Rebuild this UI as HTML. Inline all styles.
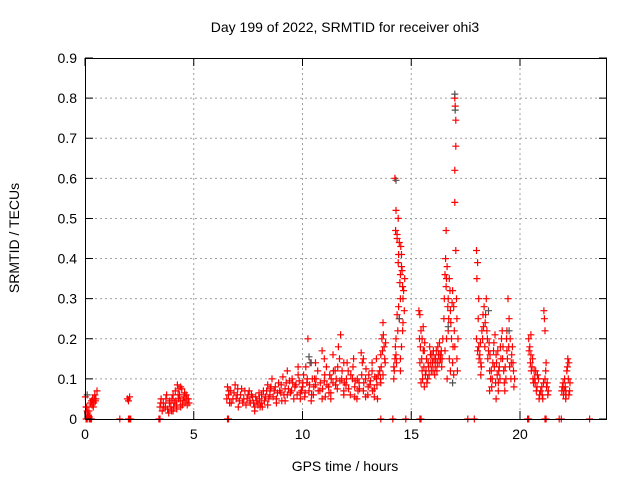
<!DOCTYPE html>
<html><head><meta charset="utf-8"><style>
body{margin:0;background:#fff;}
svg{display:block;font-family:"Liberation Sans",sans-serif;}
</style></head><body>
<svg id="chart" width="640" height="480">
<rect width="640" height="480" fill="#fff"/>
<text x="345" y="32" font-size="14" text-anchor="middle">Day 199 of 2022, SRMTID for receiver ohi3</text>
<text x="345" y="471" font-size="14" text-anchor="middle">GPS time / hours</text>
<text transform="translate(19,238) rotate(-90)" font-size="14" text-anchor="middle">SRMTID / TECUs</text>
<g id="grid"></g><g id="marks"></g><g id="axes"></g>
</svg>
<script>
const xTicks=[0,5,10,15,20];
const yTicks=[0,0.1,0.2,0.3,0.4,0.5,0.6,0.7,0.8,0.9];
const yTickLabels=["0","0.1","0.2","0.3","0.4","0.5","0.6","0.7","0.8","0.9"];
const hours=[0.02,0.08,0.1,0.15,0.2,0.25,0.3,0.35,0.4,0.45,0.5,0.55,
1.95,2.0,2.05,
3.45,3.5,3.55,3.6,3.7,3.75,3.8,3.9,3.95,4.0,4.05,4.1,4.15,4.2,4.25,4.3,4.35,4.4,4.45,4.5,4.55,4.6,4.65,4.7,4.75,3.85,4.05,4.4,
6.55,6.6,6.65,6.7,6.8,6.9,7.0,7.1,7.2,7.3,7.4,7.5,7.6,7.7,7.8,7.9,8.0,8.1,8.2,8.3,8.4,8.5,8.6,8.7,8.8,8.9,9.0,9.1,9.2,9.3,9.4,9.5,9.6,9.7,9.8,9.9,10.0,10.1,10.15,10.2,10.25,10.3,10.4,10.45,10.5,10.6,10.7,10.8,10.9,11.0,11.1,11.2,11.25,11.3,11.4,11.5,11.6,11.7,11.75,11.8,11.9,12.0,12.1,12.2,12.3,12.4,12.5,12.6,12.7,12.75,12.8,12.9,13.0,13.1,13.2,13.3,13.4,13.45,
7.05,7.55,8.05,8.55,9.05,9.55,10.05,10.55,11.05,11.55,12.05,12.55,13.05,
13.55,13.6,13.65,13.7,13.75,13.8,13.6,13.7,
14.2,14.25,14.3,14.25,14.3,14.35,14.4,14.45,14.4,14.5,14.55,14.6,14.5,14.45,14.6,14.55,14.3,14.35,14.2,14.35,14.55,14.65,14.7,14.5,
15.35,15.4,15.45,15.5,15.55,15.6,15.4,15.5,15.45,15.6,15.65,15.7,15.75,15.8,15.85,15.9,15.95,16.0,16.05,16.1,16.15,16.2,16.25,16.3,16.35,16.4,15.55,
16.5,16.55,16.6,16.65,16.6,16.7,16.75,16.7,16.8,16.85,16.9,16.95,17.0,17.02,17.05,17.0,17.0,17.05,16.9,17.0,16.8,17.1,17.15,16.65,16.55,17.1,17.05,
18.0,18.05,18.1,18.0,18.1,18.15,18.2,18.25,18.3,18.35,18.4,18.45,18.5,18.55,18.6,18.65,18.7,18.75,18.8,18.85,18.9,18.95,19.0,19.05,19.1,19.15,19.2,19.25,19.3,19.35,19.4,19.45,19.5,19.55,19.6,19.65,19.7,19.75,18.2,18.9,19.4,18.05,
20.4,20.45,20.5,20.55,20.6,20.65,20.7,20.75,20.8,20.9,21.0,21.05,21.1,21.12,21.15,21.15,21.2,21.25,21.3,20.5,
21.95,22.0,22.05,22.1,22.15,22.2,22.25,22.1,22.3,
0.05,0.1,0.2,0.25,0.3,1.6,2.0,2.05,2.1,3.4,3.45,6.55,6.6,13.6,14.15,14.75,15.4,15.45,17.6,17.9,20.35,20.4,21.15,21.2,21.8,21.9,23.2];
const tecu=[0.055,0.03,0.02,0.01,0.005,0.04,0.045,0.05,0.04,0.06,0.05,0.07,
0.05,0.045,0.055,
0.03,0.05,0.02,0.04,0.03,0.06,0.025,0.045,0.03,0.05,0.02,0.04,0.07,0.035,0.085,0.05,0.06,0.03,0.075,0.045,0.055,0.04,0.06,0.035,0.05,0.015,0.06,0.08,
0.08,0.06,0.04,0.07,0.05,0.085,0.06,0.045,0.075,0.05,0.035,0.06,0.04,0.055,0.03,0.045,0.065,0.04,0.07,0.055,0.085,0.06,0.1,0.07,0.05,0.09,0.065,0.105,0.075,0.06,0.095,0.07,0.05,0.085,0.11,0.065,0.08,0.055,0.13,0.09,0.2,0.07,0.14,0.1,0.06,0.085,0.12,0.07,0.05,0.095,0.13,0.08,0.11,0.065,0.09,0.12,0.075,0.15,0.21,0.1,0.07,0.085,0.12,0.06,0.1,0.08,0.05,0.09,0.165,0.14,0.07,0.1,0.06,0.085,0.12,0.075,0.1,0.05,
0.03,0.07,0.03,0.08,0.045,0.09,0.11,0.1,0.055,0.1,0.14,0.07,0.11,
0.12,0.16,0.2,0.24,0.18,0.14,0.09,0.11,
0.1,0.15,0.2,0.6,0.52,0.46,0.5,0.44,0.39,0.36,0.41,0.33,0.3,0.25,0.22,0.18,0.16,0.26,0.13,0.45,0.38,0.32,0.35,0.12,
0.27,0.26,0.22,0.2,0.23,0.17,0.14,0.12,0.09,0.08,0.11,0.15,0.1,0.13,0.18,0.14,0.16,0.12,0.15,0.13,0.17,0.14,0.16,0.19,0.15,0.13,0.17,
0.25,0.36,0.47,0.38,0.33,0.3,0.35,0.22,0.27,0.2,0.32,0.28,0.8,0.78,0.68,0.62,0.54,0.42,0.14,0.18,0.12,0.25,0.2,0.1,0.17,0.15,0.745,
0.42,0.39,0.3,0.2,0.18,0.16,0.14,0.22,0.26,0.28,0.24,0.3,0.2,0.17,0.12,0.1,0.08,0.14,0.19,0.21,0.16,0.11,0.09,0.13,0.18,0.2,0.15,0.12,0.07,0.1,0.17,0.3,0.25,0.2,0.14,0.18,0.12,0.1,0.11,0.05,0.22,0.17,
0.2,0.18,0.16,0.13,0.1,0.12,0.09,0.07,0.11,0.06,0.08,0.05,0.27,0.25,0.22,0.1,0.14,0.09,0.07,0.21,
0.08,0.06,0.1,0.07,0.12,0.15,0.14,0.05,0.09,
0,0,0,0,0,0,0,0,0,0,0,0,0,0,0,0,0,0,0,0,0,0,0,0,0,0,0];
const hours2=[6.52,6.62,6.72,6.85,6.95,7.02,7.15,7.25,7.35,7.45,7.58,7.65,7.75,7.85,7.95,8.02,8.12,8.25,8.35,8.45,8.52,8.65,8.75,8.85,8.95,9.02,9.15,9.25,9.35,9.45,9.52,9.65,9.75,9.85,9.95,10.02,10.12,10.22,10.32,10.42,10.52,10.62,10.72,10.82,10.92,11.02,11.12,11.22,11.32,11.42,11.52,11.62,11.72,11.82,11.92,12.02,12.12,12.22,12.32,12.42,12.52,12.62,12.72,12.82,12.92,13.02,13.12,13.22,13.32,13.42,13.48,
8.15,8.8,9.2,9.9,10.4,11.3,11.9,12.4,12.9,13.3,7.8,8.4,
9.3,9.8,10.6,11.0,11.4,11.9,12.35,12.8,13.2,13.4,10.9,11.65,
3.48,3.62,3.72,3.88,3.98,4.08,4.18,4.28,4.38,4.48,4.58,4.68,4.78,4.22,4.32,
13.58,13.62,13.68,13.72,13.78,13.82,14.22,14.27,14.32,14.38,14.42,14.48,14.52,14.58,14.62,14.68,14.28,14.42,14.62,14.5,
15.38,15.42,15.48,15.52,15.58,15.62,15.68,15.72,15.78,15.82,15.88,15.92,15.98,16.02,16.08,16.12,16.18,16.22,16.28,16.32,16.38,16.42,16.45,
16.52,16.58,16.62,16.68,16.72,16.78,16.82,16.88,16.92,16.98,17.08,17.12,16.62,16.75,16.95,
18.02,18.08,18.12,18.18,18.22,18.28,18.32,18.38,18.42,18.48,18.52,18.58,18.62,18.68,18.72,18.78,18.82,18.88,18.92,18.98,19.02,19.08,19.12,19.18,19.22,19.28,19.32,19.38,19.42,19.48,19.52,19.58,19.62,19.68,19.72,18.6,19.0,
20.42,20.48,20.52,20.58,20.62,20.68,20.72,20.78,20.85,20.95,21.02,21.08,21.18,21.22,21.28,20.88,
21.92,21.98,22.02,22.08,22.12,22.18,22.22,22.28,22.25,
0.05,0.12,0.18,0.32,0.42,0.48,0.38];
const tecu2=[0.05,0.07,0.04,0.065,0.05,0.075,0.06,0.04,0.07,0.05,0.045,0.06,0.04,0.055,0.035,0.05,0.06,0.045,0.07,0.05,0.075,0.055,0.08,0.065,0.07,0.085,0.06,0.09,0.075,0.065,0.1,0.08,0.06,0.095,0.07,0.09,0.065,0.1,0.085,0.06,0.08,0.1,0.07,0.09,0.075,0.11,0.085,0.065,0.1,0.12,0.085,0.13,0.095,0.12,0.09,0.1,0.075,0.11,0.13,0.095,0.1,0.075,0.11,0.09,0.125,0.08,0.095,0.07,0.105,0.085,0.11,
0.03,0.04,0.045,0.05,0.045,0.05,0.06,0.055,0.055,0.055,0.02,0.035,
0.12,0.13,0.14,0.15,0.16,0.14,0.15,0.15,0.14,0.15,0.17,0.18,
0.04,0.03,0.05,0.04,0.02,0.03,0.045,0.06,0.045,0.035,0.065,0.05,0.04,0.025,0.075,
0.1,0.13,0.17,0.21,0.15,0.19,0.12,0.18,0.14,0.22,0.28,0.34,0.43,0.37,0.3,0.27,0.47,0.41,0.24,0.15,
0.2,0.18,0.15,0.1,0.13,0.19,0.12,0.09,0.14,0.11,0.16,0.12,0.14,0.17,0.11,0.15,0.12,0.18,0.14,0.16,0.17,0.15,0.2,
0.3,0.4,0.35,0.28,0.25,0.32,0.24,0.29,0.18,0.22,0.3,0.12,0.2,0.15,0.11,
0.35,0.25,0.15,0.19,0.13,0.2,0.23,0.18,0.26,0.22,0.15,0.19,0.16,0.12,0.1,0.17,0.13,0.09,0.14,0.17,0.12,0.1,0.15,0.22,0.18,0.09,0.13,0.2,0.15,0.18,0.13,0.1,0.16,0.14,0.08,0.07,0.07,
0.17,0.14,0.12,0.15,0.09,0.1,0.12,0.08,0.1,0.07,0.06,0.09,0.12,0.08,0.06,0.05,
0.07,0.09,0.07,0.08,0.06,0.13,0.1,0.07,0.06,
0.03,0.015,0.02,0.035,0.05,0.045,0.03];
const grayHours=[10.3,10.35,14.3,17.0,17.02,16.7,18.55,19.5,16.9,14.45,0.1];
const grayTecu=[0.155,0.14,0.595,0.81,0.77,0.23,0.27,0.22,0.09,0.25,0.06];

const L=85,R=607,T=58,B=419,XMAX=24,YMAX=0.9;
const sx=h=>L+h*(R-L)/XMAX, sy=v=>B-v*(B-T)/YMAX;
const NS="http://www.w3.org/2000/svg";
function mk(tag,attrs,parent){const e=document.createElementNS(NS,tag);for(const k in attrs)e.setAttribute(k,attrs[k]);parent.appendChild(e);return e;}
const grid=document.getElementById('grid'),axes=document.getElementById('axes'),marks=document.getElementById('marks');
yTicks.forEach((t,i)=>{
  const y=sy(t);
  if(i>0&&i<yTicks.length-1){const g=mk('line',{x1:L,x2:R,y1:y,y2:y,stroke:'#a0a0a0','stroke-dasharray':'2,3'},grid);
  
  }
  const tk=mk('path',{d:`M${L},${y}h8M${R},${y}h-8`,stroke:'#000'},axes);
  
  
  const tl=mk('text',{x:L-8,y:y+5,'font-size':14,'text-anchor':'end'},axes);tl.textContent=yTickLabels[i];
  
  
});
xTicks.forEach(t=>{
  const x=sx(t);
  if(t>0){const g=mk('line',{x1:x,x2:x,y1:T,y2:B,stroke:'#a0a0a0','stroke-dasharray':'2,3'},grid);
  
  }
  const tk=mk('path',{d:`M${x},${B}v-8M${x},${T}v8`,stroke:'#000'},axes);
  
  
  const tl=mk('text',{x:x,y:B+20,'font-size':14,'text-anchor':'middle'},axes);tl.textContent=String(t);
  
  
});
const fr=mk('rect',{x:L+0.5,y:T+0.5,width:R-L-1,height:B-T,fill:'none',stroke:'#000'},axes);


function plus(hs,vs,color,name){
  let d='';
  for(let i=0;i<hs.length;i++){const x=sx(hs[i]),y=sy(vs[i]);d+=`M${(x-3.5).toFixed(1)},${y.toFixed(1)}h7M${x.toFixed(1)},${(y-3.5).toFixed(1)}v7`;}
  const p=mk('path',{d:d,stroke:color,'stroke-width':1.2,fill:'none'},marks);
  
  
}
plus(hours,tecu,'#ff0000','srmtid-series');
plus(hours2,tecu2,'#ff0000','srmtid-series-extra');
plus(grayHours,grayTecu,'#505050','srmtid-series-2');
</script>
</body></html>
